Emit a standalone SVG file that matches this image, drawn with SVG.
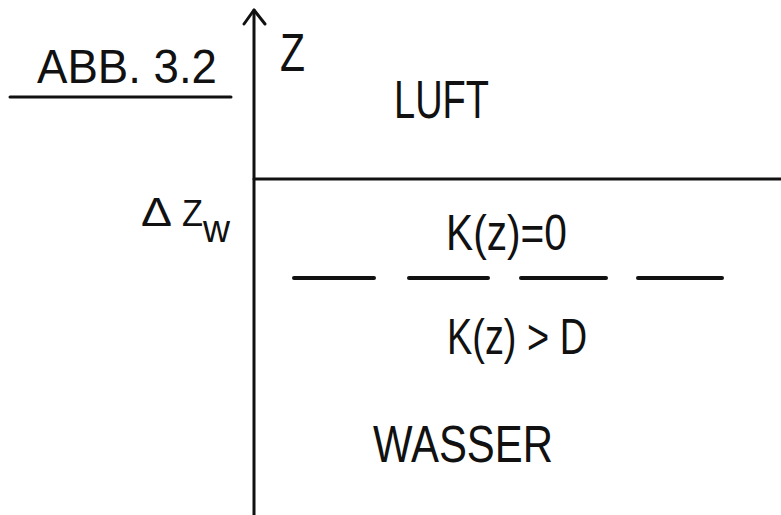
<svg xmlns="http://www.w3.org/2000/svg" width="781" height="515" viewBox="0 0 781 515">
<style>
.t{font-family:"Liberation Sans","DejaVu Sans",Arial,sans-serif;fill:#111;}
.ln{stroke:#111;stroke-width:3;fill:none;stroke-linecap:round;stroke-linejoin:round;}
.dash{stroke:#111;stroke-width:4;stroke-linecap:round;}
</style>
<rect width="781" height="515" fill="#fff"/>
<g id="title">
<text class="t" x="37" y="83" font-size="49" textLength="180" lengthAdjust="spacingAndGlyphs">ABB. 3.2</text>
<line class="ln" x1="10" y1="97" x2="231" y2="97" stroke-width="2.5"/>
</g>
<g id="connectors">
<line class="ln" x1="254" y1="10" x2="254" y2="515"/>
<polyline class="ln" points="244,24 254,10 265,24"/>
<line class="ln" x1="254" y1="179" x2="781" y2="179"/>
<line class="dash" x1="294" y1="278" x2="374" y2="278"/>
<line class="dash" x1="409" y1="278" x2="488" y2="278"/>
<line class="dash" x1="521" y1="278" x2="606" y2="278"/>
<line class="dash" x1="638" y1="278" x2="722" y2="278"/>
</g>
<g id="axis-label">
<text class="t" x="280" y="71" font-size="54" textLength="25" lengthAdjust="spacingAndGlyphs">Z</text>
</g>
<g id="luft">
<text class="t" x="394" y="118" font-size="53" textLength="95" lengthAdjust="spacingAndGlyphs">LUFT</text>
</g>
<g id="delta-zw">
<text class="t" x="141" y="226" font-size="40" textLength="31" lengthAdjust="spacingAndGlyphs">Δ</text>
<text class="t" x="182" y="226" font-size="36" textLength="21" lengthAdjust="spacingAndGlyphs">Z</text>
<text class="t" x="203" y="242" font-size="38" textLength="27" lengthAdjust="spacingAndGlyphs">w</text>
</g>
<g id="k-zero">
<text class="t" x="446" y="250" font-size="50" textLength="121" lengthAdjust="spacingAndGlyphs">K(z)=0</text>
</g>
<g id="k-gt-d">
<text class="t" x="447" y="354" font-size="50" textLength="140" lengthAdjust="spacingAndGlyphs">K(z) &gt; D</text>
</g>
<g id="wasser">
<text class="t" x="373" y="462" font-size="52" textLength="180" lengthAdjust="spacingAndGlyphs">WASSER</text>
</g>
</svg>
